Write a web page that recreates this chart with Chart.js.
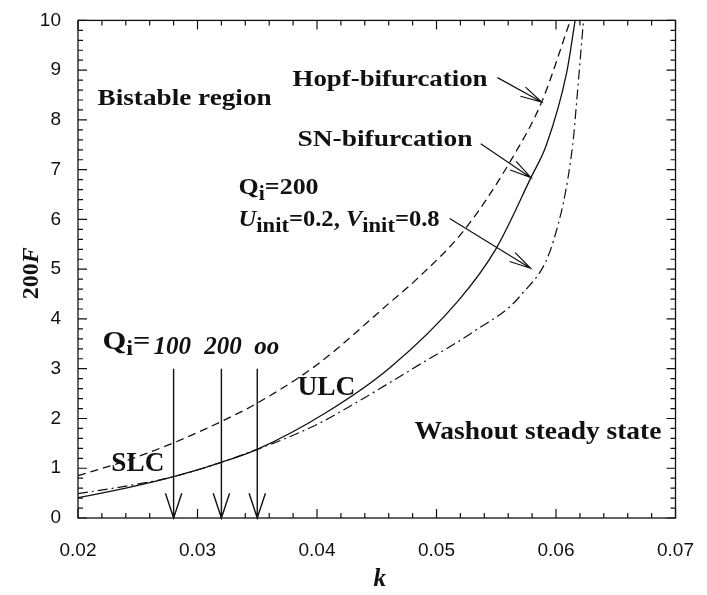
<!DOCTYPE html>
<html lang="en">
<head>
<meta charset="UTF-8" />
<title>Bifurcation diagram 200F vs k</title>
<script src="https://cdn.jsdelivr.net/npm/chart.js"></script>
<style>
  html, body { margin: 0; padding: 0; background: #fff; }
</style>
</head>
<body>
<canvas id="chart" width="707" height="595"></canvas>
<script>
  // Hopf-bifurcation line (dashed)
  const kHopf = [0.020, 0.024, 0.028, 0.032, 0.035, 0.040, 0.0461, 0.0483, 0.0524, 0.0565, 0.0588, 0.0612];
  const hopfF = [0.85, 1.15, 1.51, 1.94, 2.31, 3.08, 4.33, 4.79, 5.81, 7.30, 8.36, 10.0];

  // SN-bifurcation line (solid)
  const kSN = [0.020, 0.024, 0.028, 0.032, 0.035, 0.0407, 0.0461, 0.0519, 0.0550, 0.0579, 0.0592, 0.0609, 0.0616];
  const snF = [0.41, 0.60, 0.83, 1.12, 1.38, 2.11, 3.02, 4.39, 5.42, 6.84, 7.50, 8.96, 10.0];

  // Qi=200, Uinit=0.2, Vinit=0.8 (dash-dot)
  const kSim = [0.020, 0.024, 0.028, 0.035, 0.040, 0.043, 0.0489, 0.0530, 0.0571, 0.0598, 0.0614, 0.0617, 0.0623];
  const simF = [0.49, 0.64, 0.83, 1.38, 1.88, 2.28, 3.13, 3.73, 4.49, 5.58, 7.50, 8.29, 10.0];

  // Qi = 100, 200, oo markers on the k axis
  const kQi = [0.028, 0.032, 0.035];
  const qiLabels = ["100", "200", "oo"];

  const xTicks = [0.02, 0.03, 0.04, 0.05, 0.06, 0.07];
  const yTicks = [0, 1, 2, 3, 4, 5, 6, 7, 8, 9, 10];

  const SERIF = '"Liberation Serif", "Times New Roman", serif';
  const INK = "#111";

  function pts(xs, ys) {
    return xs.map((x, i) => ({ x: x, y: ys[i] }));
  }

  // draw a row of text runs, optionally stretched to a target width
  function drawRuns(ctx, x, y, runs, width) {
    let total = 0;
    runs.forEach((r) => {
      ctx.font = r.f;
      r.w = ctx.measureText(r.t).width;
      total += r.w;
    });
    const sx = width ? width / total : 1;
    ctx.save();
    ctx.translate(x, y);
    ctx.scale(sx, 1);
    let cx = 0;
    runs.forEach((r) => {
      ctx.font = r.f;
      ctx.fillText(r.t, cx, r.dy || 0);
      cx += r.w;
    });
    ctx.restore();
  }

  function arrow(ctx, x1, y1, x2, y2, len, ang) {
    ctx.beginPath();
    ctx.moveTo(x1, y1);
    ctx.lineTo(x2, y2);
    const a = Math.atan2(y2 - y1, x2 - x1);
    ctx.moveTo(x2 - len * Math.cos(a - ang), y2 - len * Math.sin(a - ang));
    ctx.lineTo(x2, y2);
    ctx.lineTo(x2 - len * Math.cos(a + ang), y2 - len * Math.sin(a + ang));
    ctx.stroke();
  }

  const decor = {
    id: "decor",
    afterDraw(chart) {
      const ctx = chart.ctx;
      const xs = chart.scales.x;
      const ys = chart.scales.y;
      const a = chart.chartArea;
      const X = (v) => xs.getPixelForValue(v);
      const Y = (v) => ys.getPixelForValue(v);

      ctx.save();
      ctx.strokeStyle = INK;
      ctx.fillStyle = INK;
      ctx.lineWidth = 1.3;
      ctx.strokeRect(a.left, a.top, a.right - a.left, a.bottom - a.top);

      // inward ticks on all four sides
      ctx.lineWidth = 1.2;
      ctx.beginPath();
      for (let i = 0; i <= 25; i++) {
        const px = X(0.02 + i * 0.002);
        const len = i % 5 === 0 ? 9 : 5;
        ctx.moveTo(px, a.bottom); ctx.lineTo(px, a.bottom - len);
        ctx.moveTo(px, a.top); ctx.lineTo(px, a.top + len);
      }
      for (let i = 0; i <= 50; i++) {
        const py = Y(i * 0.2);
        const len = i % 5 === 0 ? 9 : 5;
        ctx.moveTo(a.left, py); ctx.lineTo(a.left + len, py);
        ctx.moveTo(a.right, py); ctx.lineTo(a.right - len, py);
      }
      ctx.stroke();

      // vertical arrows for Qi
      ctx.lineWidth = 1.4;
      kQi.forEach((k) => {
        arrow(ctx, X(k), Y(3.0), X(k), Y(0), 26, 0.32);
      });

      // label arrows
      ctx.lineWidth = 1.2;
      arrow(ctx, X(0.0551), Y(8.85), X(0.0588), Y(8.36), 22, 0.24);
      arrow(ctx, X(0.0537), Y(7.52), X(0.0579), Y(6.84), 22, 0.24);
      arrow(ctx, X(0.0511), Y(6.02), X(0.05787), Y(5.02), 22, 0.24);

      // text labels
      ctx.textBaseline = "alphabetic";
      const b24 = "bold 24px " + SERIF;
      const b22 = "bold 22px " + SERIF;
      const b27 = "bold 27px " + SERIF;

      drawRuns(ctx, X(0.02164), Y(8.29), [{ t: "Bistable region", f: b24 }], 174);
      drawRuns(ctx, X(0.03795), Y(8.69), [{ t: "Hopf-bifurcation", f: b24 }], 195);
      drawRuns(ctx, X(0.03836), Y(7.48), [{ t: "SN-bifurcation", f: b24 }], 175);

      drawRuns(ctx, X(0.03344), Y(6.51), [
        { t: "Q", f: b24 },
        { t: "i", f: "bold 20px " + SERIF, dy: 6 },
        { t: "=200", f: b24 },
      ], 80);
      drawRuns(ctx, X(0.03344), Y(5.87), [
        { t: "U", f: "italic bold 24px " + SERIF },
        { t: "init", f: b22, dy: 6 },
        { t: "=0.2, ", f: b24 },
        { t: "V", f: "italic bold 24px " + SERIF },
        { t: "init", f: b22, dy: 6 },
        { t: "=0.8", f: b24 },
      ], 201);

      drawRuns(ctx, X(0.02205), Y(3.39), [
        { t: "Q", f: "bold 25px " + SERIF },
        { t: "i", f: "bold 20px " + SERIF, dy: 6 },
        { t: "=", f: "bold 25px " + SERIF },
      ], 48);
      const qiPos = [0.02631, 0.03057, 0.03475];
      qiLabels.forEach((t, i) => {
        drawRuns(ctx, X(qiPos[i]), Y(3.29), [{ t: t, f: "italic bold 25px " + SERIF }], null);
      });

      drawRuns(ctx, X(0.02279), Y(0.95), [{ t: "SLC", f: b27 }], 53);
      drawRuns(ctx, X(0.03836), Y(2.48), [{ t: "ULC", f: b27 }], 58);
      drawRuns(ctx, X(0.04815), Y(1.59), [{ t: "Washout steady state", f: "bold 26px " + SERIF }], 247);

      // axis titles
      const midY = (a.top + a.bottom) / 2;
      ctx.save();
      ctx.translate(38, midY + 4);
      ctx.rotate(-Math.PI / 2);
      ctx.font = "bold 24px " + SERIF;
      const w1 = ctx.measureText("200").width;
      ctx.font = "italic bold 24px " + SERIF;
      const w2 = ctx.measureText("F").width;
      drawRuns(ctx, -(w1 + w2) / 2, 0, [
        { t: "200", f: "bold 24px " + SERIF },
        { t: "F", f: "italic bold 24px " + SERIF },
      ], null);
      ctx.restore();

      ctx.font = "italic bold 25px " + SERIF;
      ctx.textAlign = "center";
      ctx.fillText("k", (a.left + a.right) / 2 + 3, 586);
      ctx.restore();
    },
  };

  new Chart(document.getElementById("chart"), {
    type: "scatter",
    data: {
      datasets: [
        {
          label: "Hopf-bifurcation",
          data: pts(kHopf, hopfF),
          showLine: true,
          borderColor: INK,
          borderWidth: 1.3,
          borderDash: [8, 5],
          pointRadius: 0,
          cubicInterpolationMode: "monotone",
        },
        {
          label: "SN-bifurcation",
          data: pts(kSN, snF),
          showLine: true,
          borderColor: INK,
          borderWidth: 1.3,
          pointRadius: 0,
          cubicInterpolationMode: "monotone",
        },
        {
          label: "Qi=200",
          data: pts(kSim, simF),
          showLine: true,
          borderColor: INK,
          borderWidth: 1.2,
          borderDash: [10, 4, 2, 4],
          pointRadius: 0,
          cubicInterpolationMode: "monotone",
        },
      ],
    },
    options: {
      responsive: false,
      animation: false,
      devicePixelRatio: 1,
      layout: { padding: { top: 14, right: 19, left: 0, bottom: 0 } },
      plugins: { legend: { display: false }, tooltip: { enabled: false } },
      scales: {
        x: {
          type: "linear",
          min: 0.02,
          max: 0.07,
          afterFit: (s) => { s.height = 77; },
          afterBuildTicks: (s) => { s.ticks = xTicks.map((v) => ({ value: v })); },
          grid: { display: false },
          border: { display: false },
          ticks: {
            color: INK,
            padding: 13,
            maxRotation: 0,
            font: { family: '"Liberation Sans", Arial, sans-serif', size: 19 },
            callback: (v) => v.toFixed(2),
          },
        },
        y: {
          min: 0,
          max: 10,
          afterFit: (s) => { s.width = 78; },
          afterBuildTicks: (s) => { s.ticks = yTicks.map((v) => ({ value: v })); },
          grid: { display: false },
          border: { display: false },
          ticks: {
            color: INK,
            padding: 9,
            font: { family: '"Liberation Sans", Arial, sans-serif', size: 19 },
          },
        },
      },
    },
    plugins: [decor],
  });
</script>
</body>
</html>
